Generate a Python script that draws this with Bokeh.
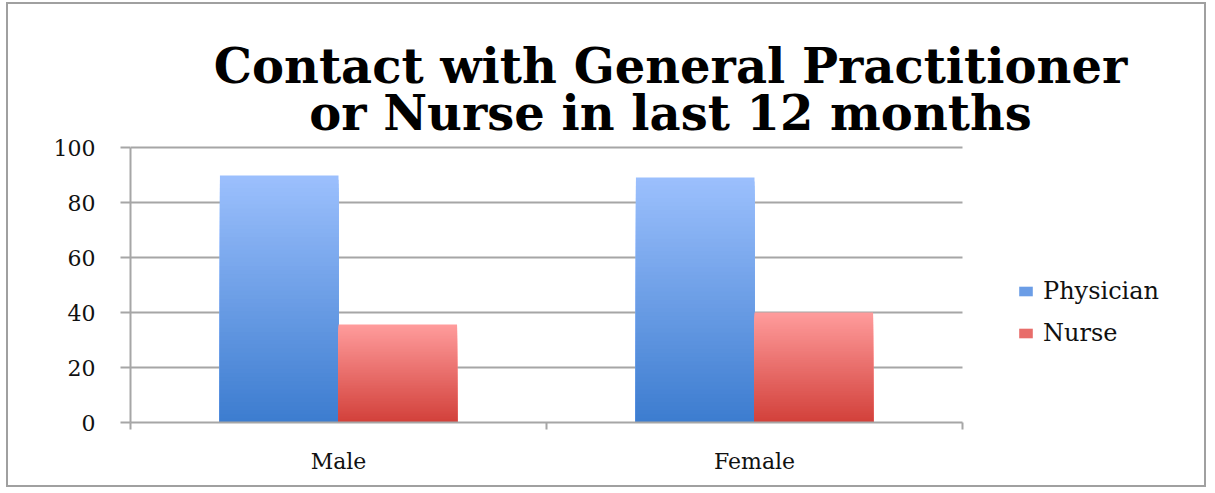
from bokeh.plotting import figure
from bokeh.models import Range1d, FixedTicker, Legend, LegendItem
from bokeh.core.properties import value
from bokeh.embed import file_html
from bokeh.resources import INLINE

# ---- data ----
categories = ["Male", "Female"]
series_names = ["Physician", "Nurse"]
physician = [89.8, 89.1]
nurse = [35.6, 40.0]
y_ticks = [0, 20, 40, 60, 80, 100]
title_lines = ["Contact with General Practitioner", "or Nurse in last 12 months"]

# ---- layout (pixels) ----
W, H = 1200, 485
B_LEFT, B_RIGHT, B_TOP, B_BOTTOM = 122, 8, 5, 67
frame_w = W - B_LEFT - B_RIGHT
frame_h = H - B_TOP - B_BOTTOM
axis_px_w = 832   # pixel width of the category axis
axis_px_h = 275   # pixel height of the 0..100 value axis
n_cat = len(categories)
x_end = n_cat * frame_w / axis_px_w
y_end = 100 * frame_h / axis_px_h

# ---- styling ----
GRID = "#a6a6a6"
SERIF = "DejaVu Serif"
grad = {
    "Physician": ((0x9c, 0xc0, 0xfd), (0x3c, 0x7c, 0xcf)),
    "Nurse": ((0xff, 0x9c, 0x9c), (0xd2, 0x40, 0x3a)),
}

p = figure(width=W, height=H, output_backend="svg", toolbar_location=None,
           x_range=Range1d(0, x_end), y_range=Range1d(0, y_end),
           min_border_left=B_LEFT, min_border_right=B_RIGHT, min_border_top=B_TOP,
           min_border_bottom=B_BOTTOM, outline_line_color=None)
p.styles = {"border": "2px solid #a0a0a0", "margin-left": "6px", "margin-top": "2px"}

bar_w = 0.285
offsets = [-bar_w / 2, bar_w / 2]
N = 60


def lerp(c0, c1, t):
    return "#%02x%02x%02x" % tuple(int(round(a + (b - a) * t)) for a, b in zip(c0, c1))


items = []
for name, vals, off in zip(series_names, [physician, nurse], offsets):
    top_c, bot_c = grad[name]
    xs, tops, cols = [], [], []
    for i, v in enumerate(vals):
        for k in range(N, 0, -1):   # tallest first, shorter overlaid -> gradient
            xs.append(i + 0.5 + off)
            tops.append(v * k / N)
            cols.append(lerp(bot_c, top_c, (k - 0.5) / N))
    r = p.vbar(x=xs, bottom=0, top=tops, width=bar_w, fill_color=cols, line_color=None)
    items.append(LegendItem(label=name, renderers=[r], index=N // 2))

legend = Legend(items=items, location=(887, 75), padding=0, margin=0,
                spacing=14, glyph_width=17, glyph_height=12, label_height=26,
                label_standoff=9, label_text_font=SERIF, label_text_font_size="24px",
                label_text_color="#111111", border_line_color=None,
                background_fill_alpha=0)
p.add_layout(legend)

# grid
p.xgrid.grid_line_color = None
p.ygrid.grid_line_color = GRID
p.ygrid.grid_line_width = 2
p.ygrid.ticker = FixedTicker(ticks=y_ticks)
p.ygrid.cross_bounds = (0, n_cat)

# axes
p.yaxis.bounds = (0, 100)
p.yaxis.ticker = FixedTicker(ticks=y_ticks)
p.yaxis.axis_line_color = GRID
p.yaxis.axis_line_width = 2
p.yaxis.major_tick_line_color = GRID
p.yaxis.major_tick_line_width = 2
p.yaxis.major_tick_in = 0
p.yaxis.major_tick_out = 10
p.yaxis.minor_tick_line_color = None
p.yaxis.major_label_standoff = 25
p.yaxis.major_label_text_font = SERIF
p.yaxis.major_label_text_font_size = "22px"
p.yaxis.major_label_text_color = "#111111"

p.xaxis.bounds = (0, n_cat)
p.xaxis.ticker = FixedTicker(ticks=[i + 0.5 for i in range(n_cat)],
                             minor_ticks=list(range(n_cat + 1)))
p.xaxis.major_label_overrides = {i + 0.5: c for i, c in enumerate(categories)}
p.xaxis.axis_line_color = GRID
p.xaxis.axis_line_width = 2
p.xaxis.major_tick_line_color = None
p.xaxis.major_tick_in = 0
p.xaxis.major_tick_out = 0
p.xaxis.minor_tick_line_color = GRID
p.xaxis.minor_tick_line_width = 2
p.xaxis.minor_tick_in = 0
p.xaxis.minor_tick_out = 7
p.xaxis.major_label_standoff = 19
p.xaxis.major_label_text_font = SERIF
p.xaxis.major_label_text_font_size = "22px"
p.xaxis.major_label_text_color = "#111111"

# title (two centered lines), positioned in value-axis units above the plot
title_x = n_cat * (670 - 130) / axis_px_w
title_y = [(423 - 66) / axis_px_h * 100, (423 - 113) / axis_px_h * 100]
p.text(x=[title_x] * 2, y=title_y, text=title_lines, text_align="center",
       text_baseline="alphabetic", text_font=value(SERIF), text_font_style="bold",
       text_font_size="48px", text_color="#000000")

open("out.html", "w").write(file_html(p, INLINE))
